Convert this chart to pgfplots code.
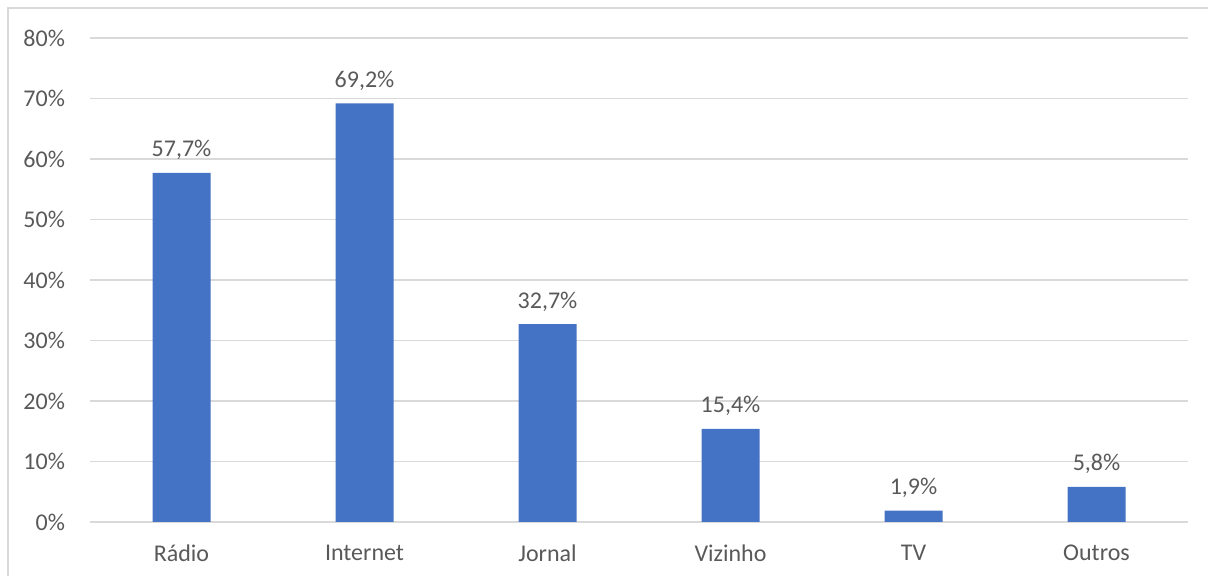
\documentclass[border=0pt]{standalone}
\usepackage{pgfplots}
\pgfplotsset{compat=1.18}
\usepackage{fontspec}
\setmainfont{Carlito}
\definecolor{barblue}{HTML}{4472C4}
\definecolor{gridgray}{HTML}{D9D9D9}
\definecolor{txtgray}{HTML}{595959}
\begin{document}
\begin{tikzpicture}
\useasboundingbox (0pt,0pt) rectangle (604pt,288pt);
\draw[gridgray, line width=0.8pt] (4pt,-5pt) -- (4pt,284pt) -- (610pt,284pt);
\begin{axis}[
  at={(45pt,27pt)}, anchor=south west,
  scale only axis,
  width=549pt, height=242pt,
  ybar, bar width=29pt,
  ymin=0, ymax=80,
  xmin=-0.5, xmax=5.5,
  xtick=data,
  xticklabels={Rádio, Internet, Jornal, Vizinho, TV, Outros},
  ytick={0,10,...,80},
  yticklabel={\pgfmathprintnumber{\tick}\%},
  /pgf/number format/assume math mode=true,
  axis line style={draw=none},
  major tick length=0pt,
  ymajorgrids, grid style={gridgray, line width=0.75pt},
  tick label style={font=\fontsize{12}{14}\selectfont, text=txtgray},
  yticklabel style={xshift=-9pt},
  xticklabel style={yshift=-8pt},
  nodes near coords={\pgfmathprintnumber[fixed,fixed zerofill,precision=1,use comma]{\pgfplotspointmeta}\%},
  every node near coord/.append style={font=\fontsize{12}{14}\selectfont, text=txtgray, yshift=3pt},
  clip=false,
]
\addplot[fill=barblue, draw=none] coordinates {
  (0,57.7) (1,69.2) (2,32.7) (3,15.4) (4,1.9) (5,5.8)
};
\end{axis}
\end{tikzpicture}
\end{document}
